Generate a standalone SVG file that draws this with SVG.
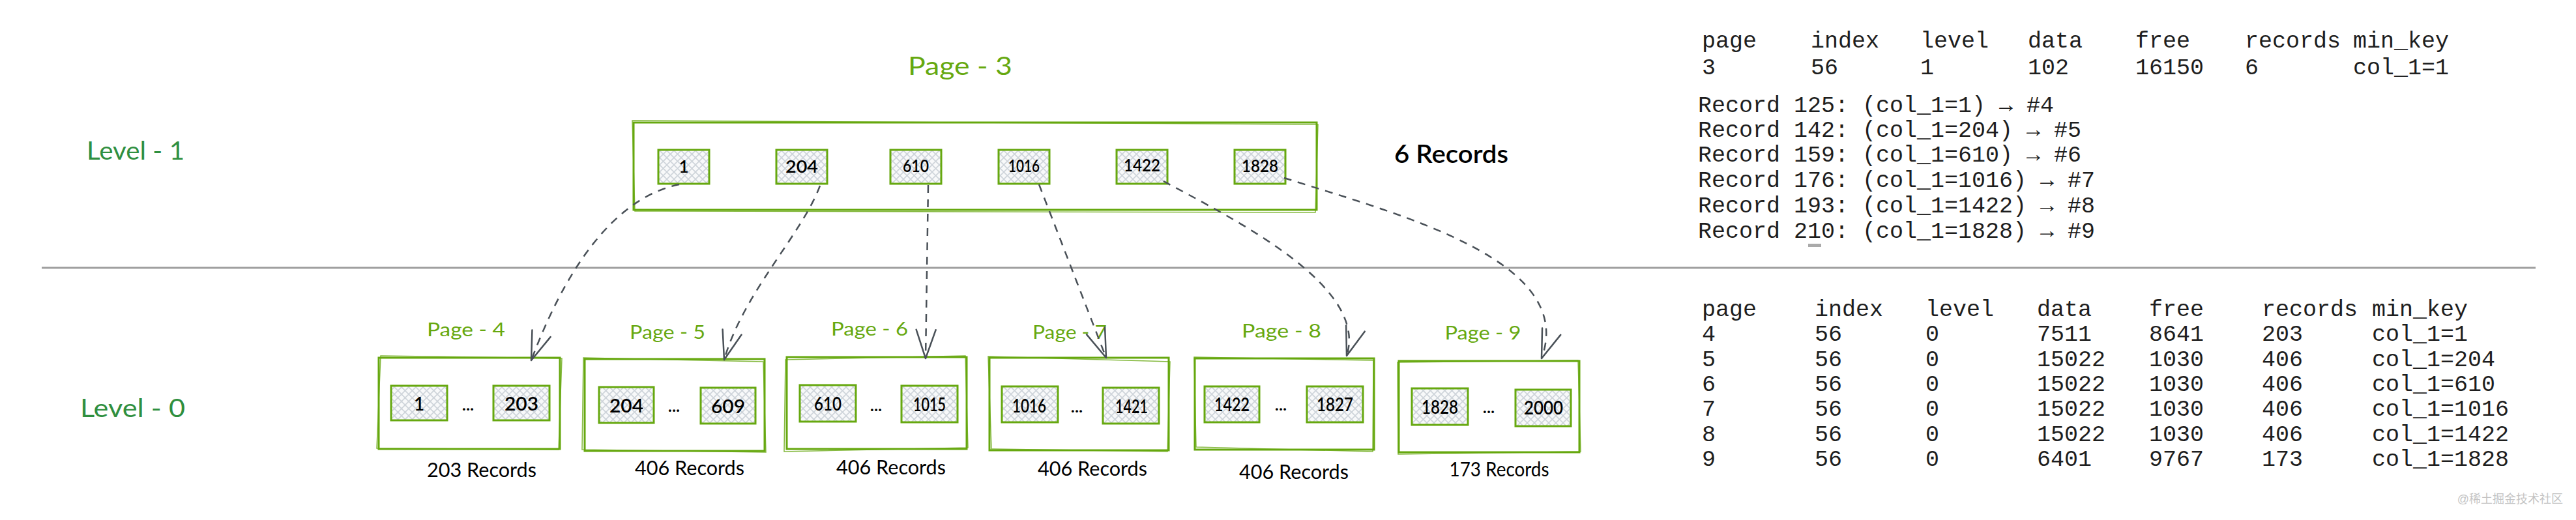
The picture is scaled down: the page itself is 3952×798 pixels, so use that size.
<svg xmlns="http://www.w3.org/2000/svg" width="3952" height="798" viewBox="0 0 3952 798">
<defs>
<pattern id="hatch" patternUnits="userSpaceOnUse" width="11" height="11">
<rect width="11" height="11" fill="#f8f9fa"/>
<path d="M0 11 L11 0 M-2 2 L2 -2 M9 13 L13 9" stroke="#ced4da" stroke-width="1.6"/>
<path d="M0 0 L11 11 M-2 9 L2 13 M9 -2 L13 2" stroke="#ced4da" stroke-width="1.6"/>
</pattern>
<marker id="ah" viewBox="-50 -20 60 40" refX="0" refY="0" markerWidth="60" markerHeight="40" markerUnits="userSpaceOnUse" orient="auto" overflow="visible">
<path d="M -44 -15 L 0 0 L -44 15" fill="none" stroke="#495057" stroke-width="2.5" stroke-dasharray="none" stroke-linecap="round" stroke-linejoin="round"/>
</marker>
<style>
.box{fill:none;stroke:#66a80f;stroke-width:3}
.box2{fill:none;stroke:#66a80f;stroke-width:1.5;opacity:0.8}
.key{fill:url(#hatch);stroke:#66a80f;stroke-width:3}
.hand{font-family:Lato,"Open Sans",sans-serif}
.lvl{font-family:Lato,"Open Sans",sans-serif;font-size:38px;fill:#2f8f3f}
.plbl{font-family:Lato,"Open Sans",sans-serif;font-size:28px;fill:#66a80f;text-anchor:middle}
.ktxt{font-family:Lato,"Open Sans",sans-serif;fill:#000;text-anchor:middle;font-weight:600}
.rec{font-family:Lato,"Open Sans",sans-serif;font-size:30px;fill:#000;text-anchor:middle}
.mono{font-family:"Liberation Mono","DejaVu Sans Mono",monospace;font-size:35px;fill:#1e1e1e}
.conn{fill:none;stroke:#495057;stroke-width:2.5;stroke-dasharray:12 10;marker-end:url(#ah)}
</style>
</defs>
<rect width="3952" height="798" fill="#ffffff"/>

<!-- level labels -->
<g id="level1"><text class="lvl" x="133" y="245" textLength="150" lengthAdjust="spacingAndGlyphs">Level - 1</text></g>
<g id="level0"><text class="lvl" x="123" y="640" textLength="161" lengthAdjust="spacingAndGlyphs">Level - 0</text></g>

<!-- divider -->
<line x1="64" y1="411" x2="3890" y2="411" stroke="#a0a0a0" stroke-width="3"/>

<!-- Page 3 -->
<g id="page3">
<text class="hand" x="1473" y="115" font-size="38" fill="#66a80f" text-anchor="middle" textLength="160" lengthAdjust="spacingAndGlyphs">Page - 3</text>
<rect class="box" x="972" y="188" width="1048" height="134"/>
<path class="box2" d="M 970 185 L 2022 191 L 2018 326 L 974 324 Z"/>
<rect class="key" x="1010" y="230" width="78" height="52"/>
<rect class="key" x="1191" y="230" width="78" height="52"/>
<rect class="key" x="1366" y="230" width="78" height="52"/>
<rect class="key" x="1532" y="230" width="78" height="52"/>
<rect class="key" x="1713" y="230" width="78" height="52"/>
<rect class="key" x="1894" y="230" width="78" height="52"/>
<g class="ktxt" font-size="26">
<text x="1049" y="265">1</text>
<text x="1230" y="265" textLength="50" lengthAdjust="spacingAndGlyphs">204</text>
<text x="1405" y="264" textLength="40" lengthAdjust="spacingAndGlyphs">610</text>
<text x="1571" y="264" textLength="48" lengthAdjust="spacingAndGlyphs">1016</text>
<text x="1752" y="263" textLength="56" lengthAdjust="spacingAndGlyphs">1422</text>
<text x="1933" y="264" textLength="56" lengthAdjust="spacingAndGlyphs">1828</text>
</g>
<text class="hand" x="2139" y="250" font-size="38" font-weight="600" fill="#000" textLength="175" lengthAdjust="spacingAndGlyphs">6 Records</text>
</g>

<!-- Leaf pages -->
<g id="page4">
<text class="plbl" x="715" y="516" textLength="120" lengthAdjust="spacingAndGlyphs">Page - 4</text>
<rect class="box" x="581" y="549" width="278" height="140"/>
<path class="box2" d="M 584 546 L 862 550 L 857 690 L 578 688 Z"/>
<rect class="key" x="600" y="592" width="86" height="53"/>
<rect class="key" x="757" y="592" width="86" height="53"/>
<text class="ktxt" font-size="28" x="643" y="630">1</text>
<text class="ktxt" font-size="28" x="800" y="630" textLength="52" lengthAdjust="spacingAndGlyphs">203</text>
<text class="ktxt" font-size="26" x="718" y="630">...</text>
<text class="rec" x="739" y="732" textLength="168" lengthAdjust="spacingAndGlyphs">203 Records</text>
</g>

<g id="page5">
<text class="plbl" x="1024" y="520" textLength="116" lengthAdjust="spacingAndGlyphs">Page - 5</text>
<rect class="box" x="897" y="551" width="276" height="141"/>
<path class="box2" d="M 895 549 L 1171 555 L 1175 694 L 893 690 Z"/>
<rect class="key" x="919" y="594" width="84" height="55"/>
<rect class="key" x="1075" y="595" width="84" height="55"/>
<text class="ktxt" font-size="28" x="961" y="633" textLength="52" lengthAdjust="spacingAndGlyphs">204</text>
<text class="ktxt" font-size="28" x="1117" y="634" textLength="52" lengthAdjust="spacingAndGlyphs">609</text>
<text class="ktxt" font-size="26" x="1034" y="632">...</text>
<text class="rec" x="1058" y="729" textLength="168" lengthAdjust="spacingAndGlyphs">406 Records</text>
</g>

<g id="page6">
<text class="plbl" x="1334" y="515" textLength="118" lengthAdjust="spacingAndGlyphs">Page - 6</text>
<rect class="box" x="1207" y="548" width="276" height="141"/>
<path class="box2" d="M 1205 552 L 1481 546 L 1485 687 L 1203 693 Z"/>
<rect class="key" x="1227" y="591" width="86" height="56"/>
<rect class="key" x="1383" y="592" width="86" height="56"/>
<text class="ktxt" font-size="28" x="1270" y="630" textLength="42" lengthAdjust="spacingAndGlyphs">610</text>
<text class="ktxt" font-size="28" x="1426" y="631" textLength="50" lengthAdjust="spacingAndGlyphs">1015</text>
<text class="ktxt" font-size="26" x="1344" y="631">...</text>
<text class="rec" x="1367" y="728" textLength="168" lengthAdjust="spacingAndGlyphs">406 Records</text>
</g>

<g id="page7">
<text class="plbl" x="1641" y="520" textLength="114" lengthAdjust="spacingAndGlyphs">Page - 7</text>
<rect class="box" x="1518" y="549" width="275" height="142"/>
<path class="box2" d="M 1516 547 L 1795 555 L 1791 693 L 1521 689 Z"/>
<rect class="key" x="1537" y="593" width="86" height="55"/>
<rect class="key" x="1692" y="595" width="86" height="55"/>
<text class="ktxt" font-size="28" x="1579" y="633" textLength="52" lengthAdjust="spacingAndGlyphs">1016</text>
<text class="ktxt" font-size="28" x="1736" y="634" textLength="50" lengthAdjust="spacingAndGlyphs">1421</text>
<text class="ktxt" font-size="26" x="1652" y="633">...</text>
<text class="rec" x="1676" y="730" textLength="168" lengthAdjust="spacingAndGlyphs">406 Records</text>
</g>

<g id="page8">
<text class="plbl" x="1966" y="518" textLength="122" lengthAdjust="spacingAndGlyphs">Page - 8</text>
<rect class="box" x="1833" y="550" width="275" height="140"/>
<path class="box2" d="M 1832 548 L 2107 553 L 2106 693 L 1835 686 Z"/>
<rect class="key" x="1848" y="593" width="84" height="55"/>
<rect class="key" x="2005" y="593" width="86" height="55"/>
<text class="ktxt" font-size="28" x="1890" y="631" textLength="54" lengthAdjust="spacingAndGlyphs">1422</text>
<text class="ktxt" font-size="28" x="2048" y="631" textLength="56" lengthAdjust="spacingAndGlyphs">1827</text>
<text class="ktxt" font-size="26" x="1965" y="630">...</text>
<text class="rec" x="1985" y="735" textLength="168" lengthAdjust="spacingAndGlyphs">406 Records</text>
</g>

<g id="page9">
<text class="plbl" x="2275" y="521" textLength="117" lengthAdjust="spacingAndGlyphs">Page - 9</text>
<rect class="box" x="2146" y="554" width="277" height="140"/>
<path class="box2" d="M 2144 556 L 2421 553 L 2425 693 L 2145 697 Z"/>
<rect class="key" x="2166" y="596" width="86" height="56"/>
<rect class="key" x="2325" y="598" width="85" height="56"/>
<text class="ktxt" font-size="28" x="2209" y="635" textLength="56" lengthAdjust="spacingAndGlyphs">1828</text>
<text class="ktxt" font-size="28" x="2368" y="636" textLength="60" lengthAdjust="spacingAndGlyphs">2000</text>
<text class="ktxt" font-size="26" x="2284" y="634">...</text>
<text class="rec" x="2300" y="731" textLength="153" lengthAdjust="spacingAndGlyphs">173 Records</text>
</g>

<!-- connectors -->
<g id="connectors">
<path class="conn" d="M 1042 283 C 960 300, 880 380, 815 553"/>
<path class="conn" d="M 1258 285 C 1230 360, 1140 450, 1111 552"/>
<path class="conn" d="M 1424 284 L 1420 550"/>
<path class="conn" d="M 1594 283 L 1697 549"/>
<path class="conn" d="M 1785 278 C 1900 340, 2100 440, 2066 546"/>
<path class="conn" d="M 1970 273 C 2150 330, 2420 400, 2365 550"/>
</g>

<!-- top table -->
<g id="table-level1" class="mono">
<text y="73"><tspan x="2611">page</tspan><tspan x="2778">index</tspan><tspan x="2946">level</tspan><tspan x="3111">data</tspan><tspan x="3276">free</tspan><tspan x="3444">records</tspan><tspan x="3610">min_key</tspan></text>
<text y="114"><tspan x="2611">3</tspan><tspan x="2778">56</tspan><tspan x="2946">1</tspan><tspan x="3111">102</tspan><tspan x="3276">16150</tspan><tspan x="3444">6</tspan><tspan x="3610">col_1=1</tspan></text>
<text x="2605" y="172">Record 125: (col_1=1) → #4</text>
<text x="2605" y="210">Record 142: (col_1=204) → #5</text>
<text x="2605" y="248">Record 159: (col_1=610) → #6</text>
<text x="2605" y="287">Record 176: (col_1=1016) → #7</text>
<text x="2605" y="326">Record 193: (col_1=1422) → #8</text>
<text x="2605" y="365">Record 210: (col_1=1828) → #9</text>
</g>
<rect x="2774" y="374" width="20" height="5" fill="#aaaaaa"/>

<!-- bottom table -->
<g id="table-level0" class="mono">
<text y="485"><tspan x="2611">page</tspan><tspan x="2784">index</tspan><tspan x="2954">level</tspan><tspan x="3125">data</tspan><tspan x="3297">free</tspan><tspan x="3470">records</tspan><tspan x="3639">min_key</tspan></text>
<text y="523"><tspan x="2611">4</tspan><tspan x="2784">56</tspan><tspan x="2954">0</tspan><tspan x="3125">7511</tspan><tspan x="3297">8641</tspan><tspan x="3470">203</tspan><tspan x="3639">col_1=1</tspan></text>
<text y="562"><tspan x="2611">5</tspan><tspan x="2784">56</tspan><tspan x="2954">0</tspan><tspan x="3125">15022</tspan><tspan x="3297">1030</tspan><tspan x="3470">406</tspan><tspan x="3639">col_1=204</tspan></text>
<text y="600"><tspan x="2611">6</tspan><tspan x="2784">56</tspan><tspan x="2954">0</tspan><tspan x="3125">15022</tspan><tspan x="3297">1030</tspan><tspan x="3470">406</tspan><tspan x="3639">col_1=610</tspan></text>
<text y="638"><tspan x="2611">7</tspan><tspan x="2784">56</tspan><tspan x="2954">0</tspan><tspan x="3125">15022</tspan><tspan x="3297">1030</tspan><tspan x="3470">406</tspan><tspan x="3639">col_1=1016</tspan></text>
<text y="677"><tspan x="2611">8</tspan><tspan x="2784">56</tspan><tspan x="2954">0</tspan><tspan x="3125">15022</tspan><tspan x="3297">1030</tspan><tspan x="3470">406</tspan><tspan x="3639">col_1=1422</tspan></text>
<text y="715"><tspan x="2611">9</tspan><tspan x="2784">56</tspan><tspan x="2954">0</tspan><tspan x="3125">6401</tspan><tspan x="3297">9767</tspan><tspan x="3470">173</tspan><tspan x="3639">col_1=1828</tspan></text>
</g>

<text x="3932" y="772" font-family="'Liberation Sans','Noto Sans CJK SC',sans-serif" font-size="18" fill="#c4c4c4" text-anchor="end">@稀土掘金技术社区</text>
</svg>
